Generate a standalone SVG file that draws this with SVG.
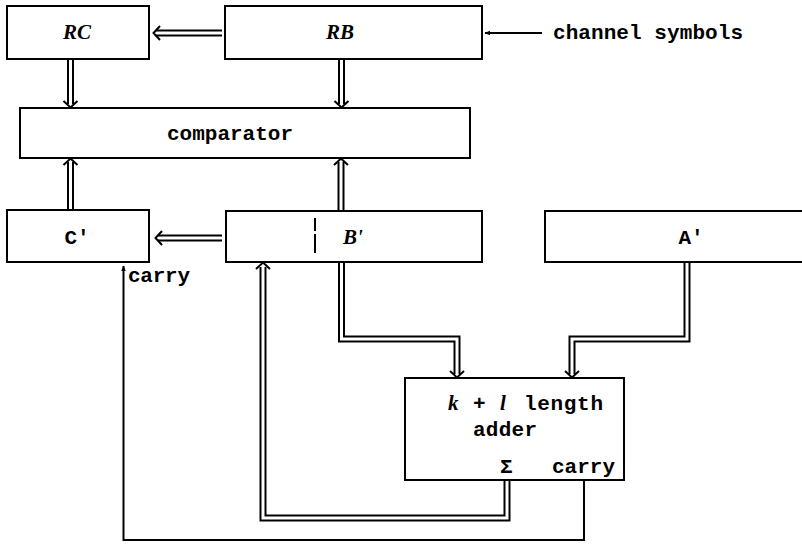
<svg xmlns="http://www.w3.org/2000/svg" width="802" height="544" viewBox="0 0 802 544">
<style>
.box{fill:#fff;stroke:#000;stroke-width:2}
.mono{font-family:"Liberation Mono","Courier New",monospace;font-weight:bold;font-size:21px;fill:#000}
.ital{font-family:"Liberation Serif","Times New Roman",serif;font-style:italic;font-weight:bold;font-size:21px;fill:#000}
.dbo{fill:none;stroke:#000;stroke-width:7;stroke-linejoin:miter}
.dbi{fill:none;stroke:#fff;stroke-width:3;stroke-linejoin:miter}
.head{fill:none;stroke:#000;stroke-width:2;stroke-linejoin:miter;stroke-linecap:butt}
.single{fill:none;stroke:#000;stroke-width:2}
</style>
<defs>
<marker id="ah" viewBox="0 0 10 10" refX="9" refY="5" markerWidth="6" markerHeight="6" orient="auto" markerUnits="userSpaceOnUse">
<path d="M0,1 L10,5 L0,9 Z" fill="#000"/>
</marker>
</defs>

<g id="connectors">
<!-- RB -> RC -->
<path class="dbo" d="M222,33 H156"/><path class="dbi" d="M223,33 H155"/>
<path class="head" d="M160,26 L153.5,33 L160,40"/>
<!-- RC -> comparator -->
<path class="dbo" d="M70.5,59 V104"/><path class="dbi" d="M70.5,58 V105"/>
<path class="head" d="M63.5,101 L70.5,107.5 L77.5,101"/>
<!-- RB -> comparator -->
<path class="dbo" d="M341.5,59 V104"/><path class="dbi" d="M341.5,58 V105"/>
<path class="head" d="M334.5,101 L341.5,107.5 L348.5,101"/>
<!-- C' -> comparator -->
<path class="dbo" d="M70.5,210 V162"/><path class="dbi" d="M70.5,211 V161"/>
<path class="head" d="M63.5,165 L70.5,158.5 L77.5,165"/>
<!-- B' -> comparator -->
<path class="dbo" d="M341,210 V162"/><path class="dbi" d="M341,211 V161"/>
<path class="head" d="M334,165 L341,158.5 L348,165"/>
<!-- B' -> C' -->
<path class="dbo" d="M222,238 H158"/><path class="dbi" d="M223,238 H157"/>
<path class="head" d="M162,231 L155.5,238 L162,245"/>
<!-- B' -> adder -->
<path class="dbo" d="M341.5,263 V339 H457 V374"/><path class="dbi" d="M341.5,262 V339 H457 V375"/>
<path class="head" d="M450,371 L457,377.5 L464,371"/>
<!-- A' -> adder -->
<path class="dbo" d="M687,263 V339 H572 V374"/><path class="dbi" d="M687,262 V339 H572 V375"/>
<path class="head" d="M565,371 L572,377.5 L579,371"/>
<!-- Sigma -> B' -->
<path class="dbo" d="M507,481 V518 H263 V267"/><path class="dbi" d="M507,480 V518 H263 V266"/>
<path class="head" d="M256,269 L263,262.5 L270,269"/>
<!-- carry -> C' carry in -->
<path class="single" d="M584,480 V540 H123.5 V266" marker-end="url(#ah)"/>
<!-- channel symbols -> RB -->
<path class="single" d="M542,33 H485" marker-end="url(#ah)"/>
</g>

<g id="RC"><rect class="box" x="7" y="6" width="142" height="53"/>
<text class="ital" x="77" y="39" text-anchor="middle">RC</text></g>

<g id="RB"><rect class="box" x="225" y="6" width="257" height="53"/>
<text class="ital" x="340" y="39" text-anchor="middle">RB</text></g>

<g id="channel"><text class="mono" x="553" y="39" textLength="190" lengthAdjust="spacing">channel symbols</text></g>

<g id="comparator"><rect class="box" x="20" y="108" width="450" height="50"/>
<text class="mono" x="167" y="140" textLength="126" lengthAdjust="spacing">comparator</text></g>

<g id="Cprime"><rect class="box" x="7" y="210" width="142" height="52"/>
<text class="mono" x="77" y="244" text-anchor="middle">C'</text>
<text class="mono" x="128" y="282" textLength="62" lengthAdjust="spacing">carry</text></g>

<g id="Bprime"><rect class="box" x="226" y="211" width="256" height="51"/>
<path d="M315,218 V253" stroke="#000" stroke-width="2" stroke-dasharray="13,3,20" fill="none"/>
<text class="ital" x="353" y="244" text-anchor="middle">B'</text></g>

<g id="Aprime"><rect class="box" x="545" y="211" width="262" height="51"/>
<text class="mono" x="691" y="244" text-anchor="middle">A'</text></g>

<g id="adder"><rect class="box" x="405" y="378" width="219" height="102"/>
<text class="ital" x="448" y="410">k</text>
<text class="mono" x="473" y="410">+</text>
<text class="ital" x="500" y="410">l</text>
<text class="mono" x="524" y="410" textLength="79" lengthAdjust="spacing">length</text>
<text class="mono" x="473" y="436" textLength="64" lengthAdjust="spacing">adder</text>
<text class="mono" x="500" y="473">Σ</text>
<text class="mono" x="552" y="473" textLength="63" lengthAdjust="spacing">carry</text></g>
</svg>
